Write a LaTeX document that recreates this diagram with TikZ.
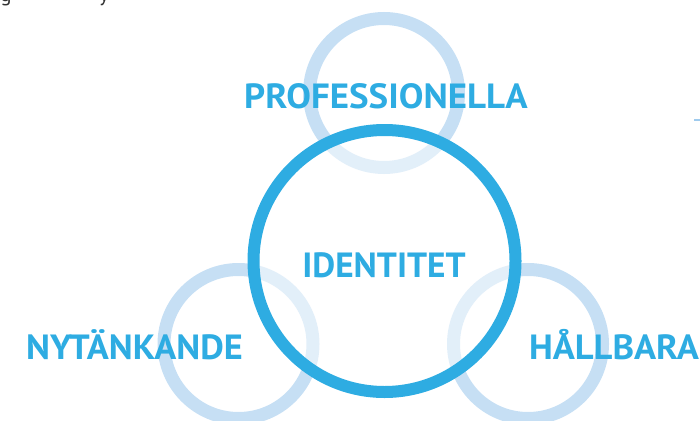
\documentclass[tikz,border=0pt]{standalone}
\usepackage{fontspec}
\setmainfont{PT Sans}
\definecolor{mainblue}{HTML}{2EACE2}
\definecolor{ringblue}{HTML}{C6DFF4}
\definecolor{lineblue}{HTML}{9FCBEE}
\definecolor{fraggray}{HTML}{333333}
\begin{document}
\begin{tikzpicture}[x=1pt,y=-1pt,
  lbl/.style={font=\bfseries\fontsize{35}{35}\selectfont, text=mainblue, inner sep=0, anchor=base},
  ring/.style={circle, draw=ringblue, line width=13pt, minimum size=149pt, inner sep=0},
  mainring/.style={circle, draw=mainblue, line width=12pt, minimum size=262pt, inner sep=0},
  frag/.style={font=\fontsize{21}{21}\selectfont, text=fraggray, inner sep=0, anchor=base}]
\useasboundingbox (0,0) rectangle (700,420);
\begin{scope}
\clip (0,0) rectangle (700,420);
\node[ring] (top) at (384,93) {};
\node[ring] (left) at (238.5,344) {};
\node[ring] (right) at (528,344) {};
\fill[white, opacity=0.5] (384.5,261) circle[radius=131pt];
\node[mainring] (main) at (384.5,261) {};
\node[frag] (g) at (6,2) {g};
\node[frag] (y) at (104,2) {y};
\coordinate (l1) at (694,120);
\coordinate (l2) at (700,120);
\draw[lineblue, line width=1.6pt] (l1) -- (l2);
\end{scope}
\node[lbl] (prof) at (386,108) {\scalebox{1.055}[1]{PROFESSIONELLA}};
\node[lbl] (iden) at (384,277) {\scalebox{1.01}[1]{IDENTITET}};
\node[lbl] (nyt) at (134.5,359) {\scalebox{1.04}[1]{NYTÄNKANDE}};
\node[lbl] (hall) at (614,359) {\scalebox{1.044}[1]{HÅLLBARA}};
\end{tikzpicture}
\end{document}
